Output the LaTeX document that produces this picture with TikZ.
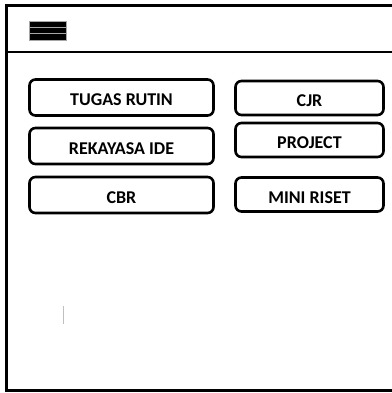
\documentclass[tikz,border=0pt]{standalone}
\usepackage{fontspec}
\setmainfont{Carlito}
\usetikzlibrary{positioning}

\begin{document}
\begin{tikzpicture}[x=1pt,y=-1pt,thick,
  menu btn/.style={draw,rounded corners=6pt,line width=2.6pt,inner sep=0pt,
    font=\fontsize{18}{18}\selectfont\bfseries,text depth=0pt,text height=17pt},
  left btn/.style={menu btn,minimum width=184pt,minimum height=36pt},
  right btn/.style={menu btn,minimum width=148pt,minimum height=34pt},
  bar/.style={fill=black,draw=gray!70,line width=0.6pt}]

  \useasboundingbox (0,0) rectangle (391,393);

  % frame and header
  \coordinate (tl) at (6.5,5.5);
  \coordinate (tr) at (395,5.5);
  \coordinate (bl) at (6.5,390.5);
  \coordinate (br) at (395,390.5);
  \coordinate (hl) at (6.5,52);
  \coordinate (hr) at (395,52);
  \draw[line width=3pt] (tr) -- (tl) -- (bl) -- (br);
  \draw[line width=2.5pt] (hl) -- (hr);

  % menu icon
  \foreach \y in {21,27.3,33.6}
    \draw[bar] (29,\y) rectangle ++(37,6.3);

  \node[left btn] (tugas) at (121.5,97.5) {TUGAS RUTIN};
  \node[left btn] (rekayasa) at (121.5,146) {REKAYASA IDE};
  \node[left btn] (cbr) at (121.5,195) {CBR};
  \node[right btn] (cjr) at (309.5,98) {CJR};
  \node[right btn] (project) at (309.5,140) {PROJECT};
  \node[right btn] (mini) at (309.5,194.5) {MINI RISET};

  % cursor
  \coordinate (c1) at (63.3,306);
  \coordinate (c2) at (63.3,324);
  \draw[gray!50,line width=0.8pt] (c1) -- (c2);
\end{tikzpicture}
\end{document}
